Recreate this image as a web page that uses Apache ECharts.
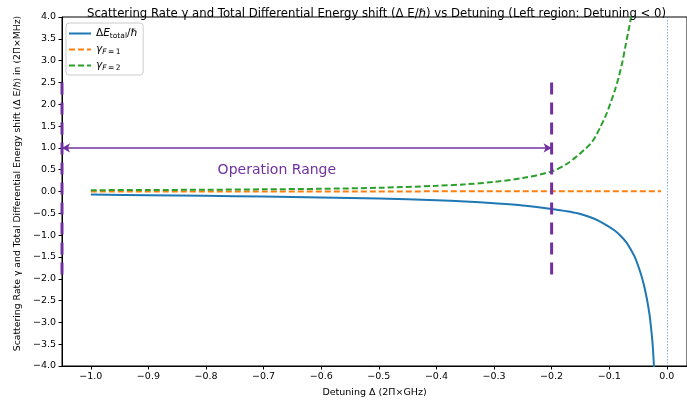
<!DOCTYPE html>
<html>
<head>
<meta charset="utf-8">
<script src="https://cdn.jsdelivr.net/npm/echarts@6/dist/echarts.min.js"></script>
<style>
  html, body { margin: 0; padding: 0; background: #fff; }
  #chart { width: 687px; height: 406px; }
</style>
</head>
<body>
<div id="chart"></div>
<script>
// Total differential energy shift ΔE/ħ (2π×MHz) against detuning Δ (2π×GHz)
const detuningShift = [-1.0, -0.9, -0.8, -0.7, -0.6, -0.5, -0.4, -0.35, -0.3, -0.25, -0.2, -0.175, -0.155, -0.135, -0.12, -0.105, -0.09, -0.08, -0.07, -0.063, -0.055, -0.046, -0.04, -0.0345, -0.03, -0.0276, -0.025, -0.023, -0.021];
const energyShift = [-0.07, -0.085, -0.1, -0.115, -0.135, -0.16, -0.2, -0.23, -0.27, -0.32, -0.4, -0.45, -0.5, -0.58, -0.66, -0.77, -0.9, -1.02, -1.17, -1.32, -1.52, -1.85, -2.13, -2.47, -2.83, -3.1, -3.45, -3.85, -4.4];

// Scattering rate for F = 1
const detuningF1 = [-1.0, -0.8, -0.6, -0.4, -0.2, -0.1, -0.05, -0.02, -0.01];
const rateF1 = [0.002, 0.002, 0.002, 0.003, 0.003, 0.003, 0.003, 0.003, 0.003];

// Scattering rate for F = 2
const detuningF2 = [-1.0, -0.9, -0.8, -0.7, -0.6, -0.5, -0.4, -0.35, -0.3, -0.25, -0.2, -0.175, -0.155, -0.143, -0.132, -0.123, -0.115, -0.106, -0.098, -0.09, -0.0834, -0.077, -0.072, -0.067, -0.063, -0.06];
const rateF2 = [0.03, 0.035, 0.04, 0.05, 0.062, 0.085, 0.13, 0.165, 0.22, 0.31, 0.46, 0.62, 0.82, 0.96, 1.1, 1.28, 1.49, 1.74, 2.02, 2.33, 2.63, 2.98, 3.32, 3.66, 3.93, 4.2];

// Operating window and annotation
const rangeStart = -1.05;
const rangeEnd = -0.2;
const rangeArrowY = 1.0;
const rangeBarLow = -2.0;
const rangeBarHigh = 2.5;
const rangeLabel = 'Operation Range';
const rangeLabelPos = [-0.677, 0.49];

// Axis ticks
const xTicks = [-1.0, -0.9, -0.8, -0.7, -0.6, -0.5, -0.4, -0.3, -0.2, -0.1, 0.0];
const yTicks = [-4.0, -3.5, -3.0, -2.5, -2.0, -1.5, -1.0, -0.5, 0.0, 0.5, 1.0, 1.5, 2.0, 2.5, 3.0, 3.5, 4.0];

const zip = (xs, ys) => xs.map((x, i) => [x, ys[i]]);
const fmt = v => {
  const s = Math.abs(v) < 1e-9 ? '0.0' : v.toFixed(1);
  return s.replace('-', '\u2212');
};

const FONT = 'DejaVu Sans';
const PURPLE = '#7030a0';
const chart = echarts.init(document.getElementById('chart'), null, { renderer: 'canvas' });

const legendNames = {
  dE: '{n|\u0394}{i|E}{s|total}{n|/}{i|\u210f}',
  g1: '{i|\u03b3}{si|F}{s|\u2009=\u20091}',
  g2: '{i|\u03b3}{si|F}{s|\u2009=\u20092}'
};

// Dashed vertical bar marking one edge of the operating window
const rangeBar = (name, x) => ({
  name, type: 'line', clip: false, z: 6,
  data: [[x, rangeBarHigh], [x, rangeBarLow]],
  symbol: 'none', silent: true,
  lineStyle: { color: PURPLE, width: 3, type: [12, 8] }
});

chart.setOption({
  animation: false,
  backgroundColor: '#fff',
  textStyle: { fontFamily: FONT },
  title: {
    text: 'Scattering Rate \u03b3 and Total Differential Energy shift (\u0394 E/\u210f) vs Detuning (Left region: Detuning < 0)',
    left: 82,
    top: 3,
    textStyle: { fontFamily: FONT, fontSize: 11.7, fontWeight: 'normal', color: '#000' }
  },
  grid: {
    left: 62, top: 17, width: 628, height: 349,
    show: true, borderColor: '#000', borderWidth: 1, backgroundColor: 'transparent'
  },
  legend: {
    data: ['dE', 'g1', 'g2'],
    orient: 'vertical',
    left: 66, top: 23,
    itemWidth: 22, itemHeight: 1, itemGap: 4,
    padding: [5, 6, 3, 2],
    backgroundColor: 'rgba(255,255,255,0.8)',
    borderColor: '#ccc', borderWidth: 1, borderRadius: 3,
    formatter: name => legendNames[name],
    textStyle: {
      fontFamily: FONT, fontSize: 10, color: '#000',
      rich: {
        n: { fontFamily: FONT, fontSize: 10.5, color: '#000' },
        i: { fontFamily: FONT, fontSize: 10.5, fontStyle: 'italic', color: '#000' },
        s: { fontFamily: FONT, fontSize: 7.5, color: '#000', padding: [5, 0, 0, 0] },
        si: { fontFamily: FONT, fontSize: 7.5, fontStyle: 'italic', color: '#000', padding: [5, 0, 0, 0] }
      }
    }
  },
  xAxis: {
    type: 'value',
    min: rangeStart, max: 0.035,
    name: 'Detuning \u0394 (2\u03a0\u00d7GHz)',
    nameLocation: 'middle', nameGap: 22,
    nameTextStyle: { fontFamily: FONT, fontSize: 9.5, color: '#000' },
    splitLine: { show: false },
    axisLine: { onZero: false, lineStyle: { color: '#000', width: 1 } },
    axisTick: { show: true, customValues: xTicks, length: 3.5, lineStyle: { color: '#000' } },
    axisLabel: { customValues: xTicks, formatter: fmt, fontFamily: FONT, fontSize: 9.5, color: '#000', margin: 6 }
  },
  yAxis: {
    type: 'value',
    min: -4, max: 4, interval: 0.5,
    name: 'Scattering Rate \u03b3 and Total Differential Energy shift (\u0394 E/\u210f) in (2\u03a0\u00d7MHz)',
    nameLocation: 'middle', nameGap: 38,
    nameTextStyle: { fontFamily: FONT, fontSize: 9.3, color: '#000', padding: [0, 0, 0, 16] },
    splitLine: { show: false },
    axisLine: { show: true, onZero: false, lineStyle: { color: '#000', width: 1 } },
    axisTick: { show: true, length: 3.5, lineStyle: { color: '#000' } },
    axisLabel: { formatter: fmt, fontFamily: FONT, fontSize: 9.5, color: '#000', margin: 6 }
  },
  series: [
    {
      name: 'dE', type: 'line', data: zip(detuningShift, energyShift),
      symbol: 'none', smooth: 0.3, clip: true,
      color: '#1f77b4', lineStyle: { color: '#1f77b4', width: 2 }, z: 3
    },
    {
      name: 'g1', type: 'line', data: zip(detuningF1, rateF1),
      symbol: 'none', clip: true,
      color: '#ff7f0e', lineStyle: { color: '#ff7f0e', width: 2, type: [6, 3] }, z: 3
    },
    {
      name: 'g2', type: 'line', data: zip(detuningF2, rateF2),
      symbol: 'none', smooth: 0.3, clip: true,
      color: '#2ca02c', lineStyle: { color: '#2ca02c', width: 2, type: [6, 3] }, z: 3
    },
    rangeBar('rangeStartBar', rangeStart),
    rangeBar('rangeEndBar', rangeEnd),
    {
      name: 'annotations', type: 'line', data: [], clip: false, z: 5,
      markLine: {
        silent: true, animation: false,
        label: { show: false },
        data: [
          [
            { coord: [0, 4], symbol: 'none', lineStyle: { color: 'rgba(31,119,180,0.55)', width: 1, type: [1.5, 1.5] } },
            { coord: [0, -4], symbol: 'none' }
          ],
          [
            { coord: [rangeStart, rangeArrowY], symbol: 'arrow', symbolSize: [7, 8], lineStyle: { color: PURPLE, width: 1.6, type: 'solid' } },
            { coord: [rangeEnd, rangeArrowY], symbol: 'arrow', symbolSize: [7, 8] }
          ]
        ]
      },
      markPoint: {
        silent: true, animation: false,
        symbol: 'circle', symbolSize: 0,
        data: [{ coord: rangeLabelPos, value: rangeLabel }],
        label: {
          show: true, position: 'inside', formatter: rangeLabel,
          color: PURPLE, fontFamily: FONT, fontSize: 14
        }
      }
    }
  ]
});
</script>
</body>
</html>
